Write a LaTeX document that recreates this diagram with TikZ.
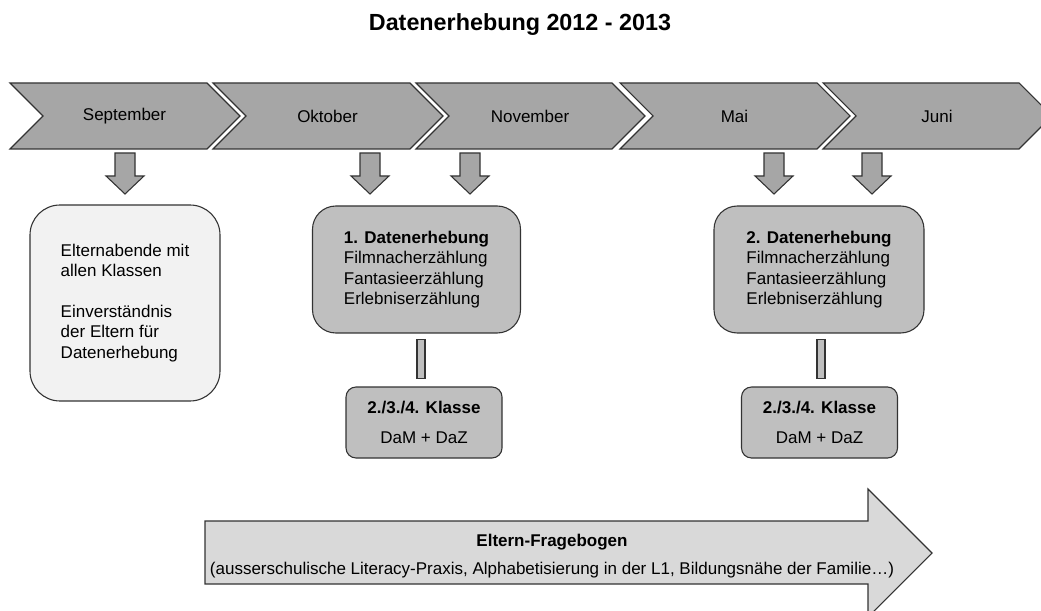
\documentclass[tikz,border=0pt]{standalone}
\usepackage{fontspec}
\setmainfont{Liberation Sans}
\usetikzlibrary{calc}
\definecolor{ChevGray}{HTML}{A6A6A6}
\definecolor{BoxGray}{HTML}{BFBFBF}
\definecolor{PaleGray}{HTML}{F2F2F2}
\definecolor{BandGray}{HTML}{D9D9D9}
\definecolor{LineGray}{HTML}{333333}

\begin{document}
\begin{tikzpicture}[x=0.6pt,y=-0.6pt,font=\fontsize{10.2}{12.2}\selectfont,
  ln/.style={draw=LineGray,line width=0.65pt},
  chev/.style={ln,fill=ChevGray},
  b/.style={ln,align=left,inner sep=0pt},
  dat/.style={b,fill=BoxGray,rounded corners=14pt,minimum height=76.2pt},
  kl/.style={b,align=center,fill=BoxGray,rounded corners=6pt,minimum width=93.6pt,minimum height=42.6pt}]
  \path[use as bounding box] (0,0) rectangle (1041,611);
  \clip (0,0) rectangle (1041,611);
  \node[font=\fontsize{14}{16}\selectfont\bfseries] (title) at (520,25) {Datenerhebung 2012 - 2013};
  % Monate
  \foreach \l/\r/\m/\t in {10/207/sep/September,213/410/okt/Oktober,416/612/nov/November,620/817/mai/Mai,823/1019/jun/Juni}{
    \draw[chev] (\l,83) -- (\r,83) -- (\r+33,116) -- (\r,149) -- (\l,149) -- (\l+33,116) -- cycle;
    \node (\m) at ({(\l+\r)/2+16},116) {\t};}
  \foreach \c in {125,370,470,774,872}{\draw[chev] (\c-10,153) -- (\c+10,153) -- (\c+10,176) -- (\c+19,176) -- (\c,194) -- (\c-19,176) -- (\c-10,176) -- cycle;}
  % Kaesten
  \node[b,fill=PaleGray,rounded corners=18pt,minimum width=114pt,minimum height=117.6pt] (eab) at (125,303) {Elternabende mit\\allen Klassen\\[12.2pt]Einverständnis\\der Eltern für\\Datenerhebung};
  \node[dat,minimum width=124.8pt] (d1) at (416.5,269.5) {\textbf{1. Datenerhebung}\\Filmnacherzählung\\Fantasieerzählung\\Erlebniserzählung};
  \node[dat,minimum width=126pt] (d2) at (819,269.5) {\textbf{2. Datenerhebung}\\Filmnacherzählung\\Fantasieerzählung\\Erlebniserzählung};
  \node[kl] (k1) at (424,422.5) {\textbf{2./3./4. Klasse}\\[6pt]DaM + DaZ};
  \node[kl] (k2) at (819.5,422.5) {\textbf{2./3./4. Klasse}\\[6pt]DaM + DaZ};
  \draw[ln,fill=BoxGray] ($(d1.south)+(0.5,6)$) rectangle ($(k1.north)+(1,-8)$);
  \draw[ln,fill=BoxGray] ($(d2.south)+(-2,6)$) rectangle ($(k2.north)+(5.5,-8)$);
  % Fragebogen
  \draw[ln,fill=BandGray] (205,521) -- (868,521) -- (868,489) -- (932,553) -- (868,617) -- (868,584) -- (205,584) -- cycle;
  \node[align=center] (efb) at (552,556) {\textbf{Eltern-Fragebogen}\\[5pt](ausserschulische Literacy-Praxis, Alphabetisierung in der L1, Bildungsnähe der Familie…)};
\end{tikzpicture}
\end{document}
